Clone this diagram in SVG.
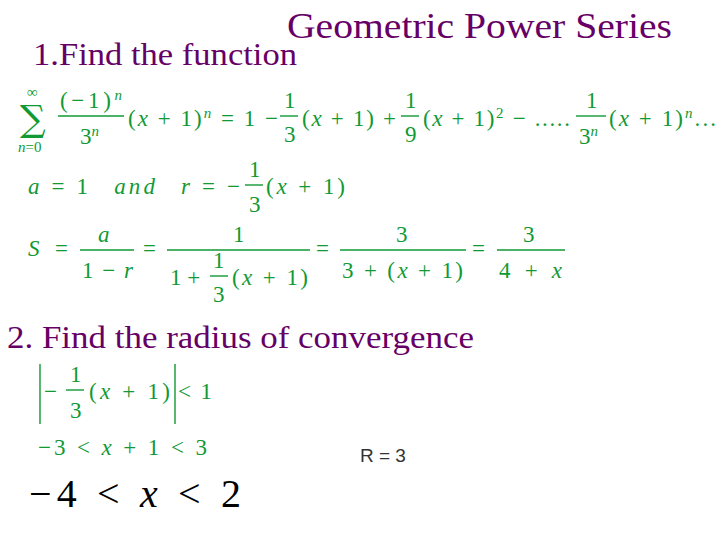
<svg xmlns="http://www.w3.org/2000/svg" width="720" height="540" viewBox="0 0 720 540">
<style>
.t{font-family:"Liberation Serif",serif;fill:#660066}
.m{font-family:"Liberation Serif",serif;fill:#119933;font-size:23px}
.i{font-style:italic}
.s{font-size:15px}
.l{stroke:#119933;stroke-width:1.4}
</style>
<rect width="720" height="540" fill="#fff"/>
<text class="t" x="287" y="38" font-size="35" textLength="385" lengthAdjust="spacingAndGlyphs">Geometric Power Series</text>
<text class="t" x="33" y="65" font-size="31" textLength="264" lengthAdjust="spacingAndGlyphs">1.Find the function</text>
<g id="sum">
<text x="20" y="131" font-family="DejaVu Serif,serif" font-size="36" fill="#119933">∑</text>
<text class="m s" x="27" y="97">∞</text>
<text class="m s" x="18" y="152"><tspan class="i">n</tspan>=0</text>
<text class="m" x="60" y="108" textLength="62">(−1)<tspan class="i s" dy="-8">n</tspan></text>
<line class="l" x1="58" y1="116" x2="124" y2="116"/>
<text class="m" x="80" y="144">3<tspan class="i s" dy="-8">n</tspan></text>
<text class="m" x="128" y="126" textLength="150">(<tspan class="i">x</tspan> + 1)<tspan class="i s" dy="-8">n</tspan><tspan dy="8"> = 1 −</tspan></text>
<text class="m" x="284" y="108">1</text>
<line class="l" x1="280" y1="116" x2="298" y2="116"/>
<text class="m" x="284" y="142">3</text>
<text class="m" x="302" y="126" textLength="94">(<tspan class="i">x</tspan> + 1) +</text>
<text class="m" x="405" y="108">1</text>
<line class="l" x1="401" y1="116" x2="419" y2="116"/>
<text class="m" x="405" y="142">9</text>
<text class="m" x="423" y="126" textLength="147">(<tspan class="i">x</tspan> + 1)<tspan class="s" dy="-8">2</tspan><tspan dy="8"> − .....</tspan></text>
<text class="m" x="586" y="108">1</text>
<line class="l" x1="576" y1="116" x2="606" y2="116"/>
<text class="m" x="579" y="144">3<tspan class="i s" dy="-8">n</tspan></text>
<text class="m" x="609" y="126" textLength="107">(<tspan class="i">x</tspan> + 1)<tspan class="i s" dy="-8">n</tspan><tspan dy="8">...</tspan></text>
</g>
<g id="ar">
<text class="m" x="28" y="194" textLength="212"><tspan class="i">a</tspan> = 1 <tspan class="i" dx="14">and</tspan> <tspan class="i" dx="14">r</tspan> = −</text>
<text class="m" x="249" y="177">1</text>
<line class="l" x1="245" y1="185" x2="263" y2="185"/>
<text class="m" x="249" y="212">3</text>
<text class="m" x="266" y="194" textLength="79">(<tspan class="i">x</tspan> + 1)</text>
</g>
<g id="S">
<text class="m" x="28" y="256" textLength="40"><tspan class="i">S</tspan> =</text>
<text class="m" x="98" y="242"><tspan class="i">a</tspan></text>
<line class="l" x1="80" y1="250" x2="134" y2="250"/>
<text class="m" x="82" y="278" textLength="51">1 − <tspan class="i">r</tspan></text>
<text class="m" x="143" y="256">=</text>
<text class="m" x="233" y="242">1</text>
<line class="l" x1="167" y1="250" x2="310" y2="250"/>
<text class="m" x="170" y="285">1 +</text>
<text class="m" x="213" y="268">1</text>
<line class="l" x1="210" y1="276" x2="228" y2="276"/>
<text class="m" x="213" y="302">3</text>
<text class="m" x="232" y="285" textLength="76">(<tspan class="i">x</tspan> + 1)</text>
<text class="m" x="316" y="256">=</text>
<text class="m" x="396" y="242">3</text>
<line class="l" x1="340" y1="250" x2="466" y2="250"/>
<text class="m" x="342" y="278" textLength="121">3 + (<tspan class="i">x</tspan> + 1)</text>
<text class="m" x="472" y="256">=</text>
<text class="m" x="523" y="242">3</text>
<line class="l" x1="497" y1="250" x2="565" y2="250"/>
<text class="m" x="499" y="278" textLength="63">4 + <tspan class="i">x</tspan></text>
</g>
<text class="t" x="7" y="348" font-size="32" textLength="467" lengthAdjust="spacingAndGlyphs">2. Find the radius of convergence</text>
<g id="abs">
<line class="l" x1="40" y1="364" x2="40" y2="424"/>
<line class="l" x1="175" y1="364" x2="175" y2="424"/>
<text class="m" x="44" y="399">−</text>
<text class="m" x="70" y="382">1</text>
<line class="l" x1="66" y1="390" x2="84" y2="390"/>
<text class="m" x="70" y="418">3</text>
<text class="m" x="89" y="399" textLength="81">(<tspan class="i">x</tspan> + 1)</text>
<text class="m" x="178" y="399" textLength="34">&lt; 1</text>
</g>
<text class="m" x="38" y="455" textLength="169">−3 &lt; <tspan class="i">x</tspan> + 1 &lt; 3</text>
<text x="360" y="462" font-family="Liberation Sans,sans-serif" font-size="19" fill="#333">R = 3</text>
<text x="29" y="507" font-family="Liberation Serif,serif" font-size="40" fill="#000" textLength="212">−4 &lt; <tspan font-style="italic">x</tspan> &lt; 2</text>
</svg>
